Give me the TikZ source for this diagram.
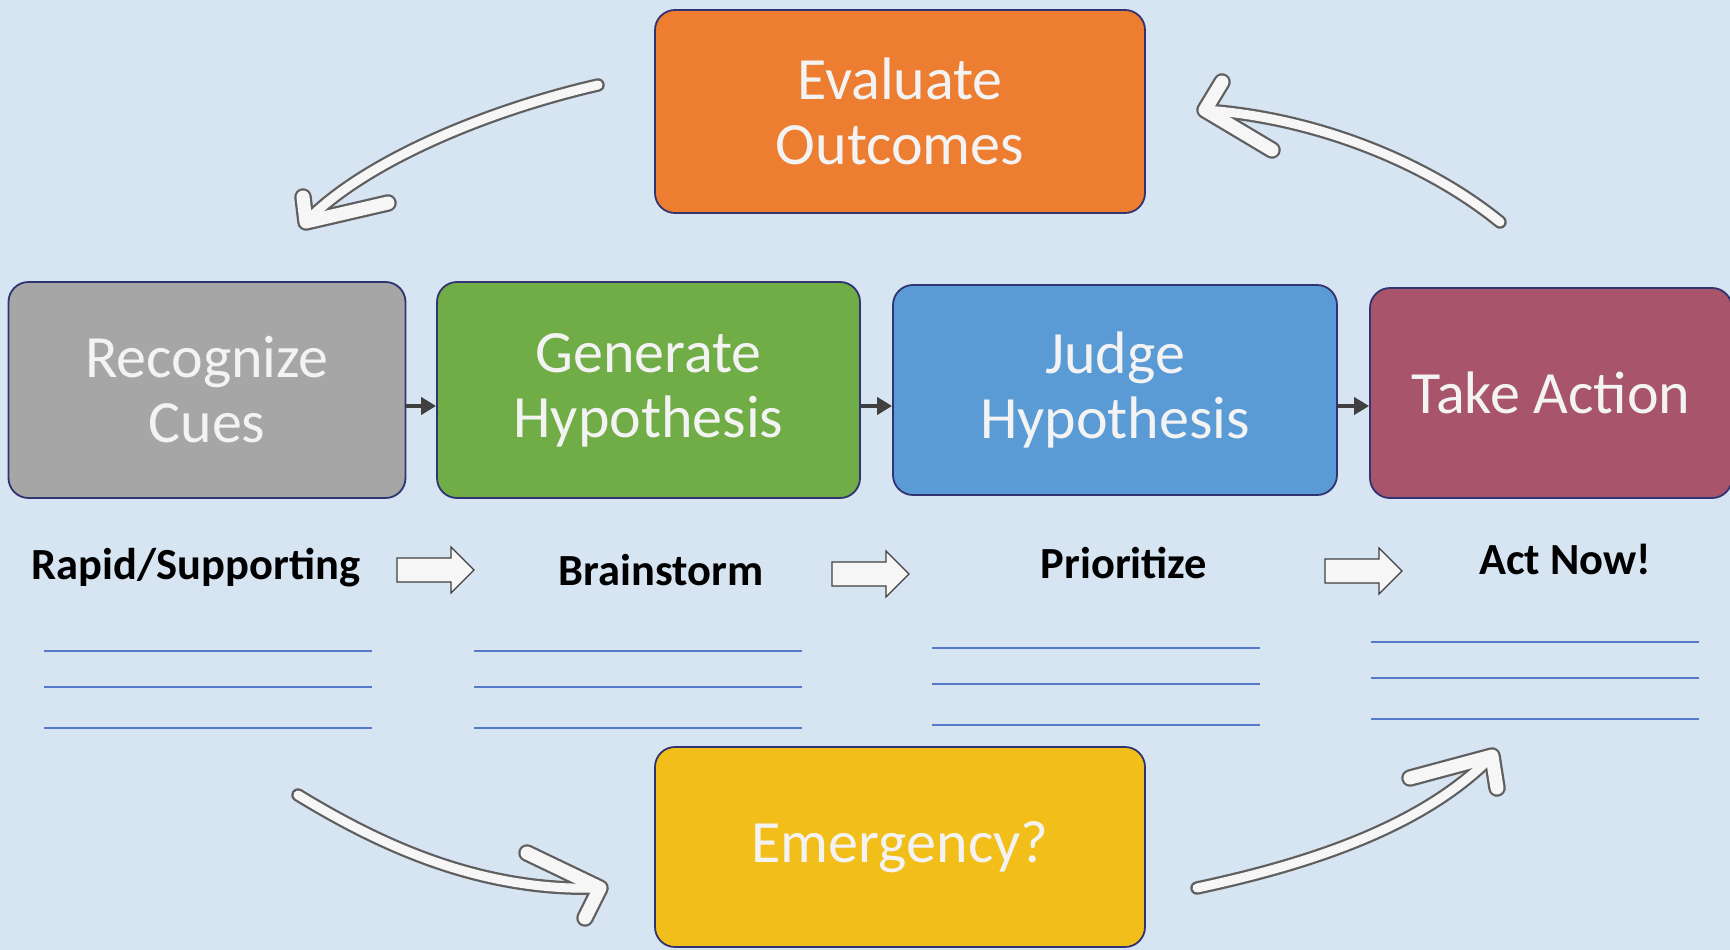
\documentclass[tikz,border=0pt]{standalone}
\usepackage{fontspec}
\setmainfont{Carlito}
\usetikzlibrary{arrows.meta,positioning}

\definecolor{bgblue}{RGB}{215,228,242}
\definecolor{boxline}{RGB}{48,52,112}
\definecolor{boxtext}{RGB}{243,243,243}
\definecolor{cuegray}{RGB}{166,166,166}
\definecolor{gengreen}{RGB}{112,173,71}
\definecolor{judgeblue}{RGB}{91,155,213}
\definecolor{actred}{RGB}{168,85,108}
\definecolor{evalorange}{RGB}{237,125,49}
\definecolor{emyellow}{RGB}{242,190,26}
\definecolor{flowgray}{RGB}{64,64,64}
\definecolor{lineblue}{RGB}{84,122,200}
\definecolor{edgegray}{RGB}{95,95,95}
\definecolor{paper}{RGB}{246,246,246}

\tikzset{
  stage/.style={draw=boxline, line width=1.8pt, rounded corners=20pt, text=boxtext,
    align=center, inner sep=0pt, font=\fontsize{60}{65}\selectfont},
  tag/.style={anchor=base, font=\bfseries\fontsize{44.5}{50}\selectfont},
  flow/.style={draw=flowgray, line width=4.5pt, -{Triangle[length=15pt,width=17pt]}},
  rule/.style={draw=lineblue, line width=1.4pt},
  blockarrow/.style={draw=flowgray, fill=paper, line width=1.2pt, line join=miter},
}

% the four curved arrows of the cycle, drawn once as outline and once as fill
\newcommand\cyclearrows[2]{%
  \begin{scope}[draw=#1, line cap=round, line join=round]
    \draw[line width=9pt+#2] (tl0) .. controls (480,112) and (360,165) .. (tl3);
    \draw[line width=13pt+#2] (tla) -- (tl3) -- (tlb);
    \draw[line width=9pt+#2] (tr0) .. controls (1430,165) and (1320,118) .. (tr3);
    \draw[line width=13pt+#2] (tra) -- (tr3) -- (trb);
    \draw[line width=9pt+#2] (bl0) .. controls (380,845) and (480,892) .. (bl3);
    \draw[line width=13pt+#2] (bla) -- (bl3) -- (blb);
    \draw[line width=9pt+#2] (br0) .. controls (1300,866) and (1420,830) .. (br3);
    \draw[line width=13pt+#2] (bra) -- (br3) -- (brb);
  \end{scope}}

\begin{document}
\begin{tikzpicture}[x=1pt,y=-1pt]
  \fill[bgblue] (0,0) rectangle (1730,950);
  \useasboundingbox (0,0) rectangle (1730,950);

  % boxes
  \node[stage, fill=evalorange, minimum width=490pt, minimum height=203pt] (eval) at (900,111.5) {Evaluate\\Outcomes};
  \node[stage, fill=cuegray, minimum width=397pt, minimum height=216pt] (cues) at (207,390) {Recognize\\Cues};
  \node[stage, fill=gengreen, minimum width=423pt, minimum height=216pt] (gen) at (648.5,390) {Generate\\Hypothesis};
  \node[stage, fill=judgeblue, minimum width=444pt, minimum height=210pt] (judge) at (1115,390) {Judge\\Hypothesis};
  \node[stage, fill=actred, minimum width=362pt, minimum height=210pt] (act) at (1551,393) {Take Action};
  \node[stage, fill=emyellow, minimum width=490pt, minimum height=200pt] (emerg) at (900,847) {Emergency?};

  % small arrows between the boxes
  \coordinate (row) at (0,406);
  \draw[flow] (cues.east |- row) -- (gen.west |- row);
  \draw[flow] (gen.east |- row) -- (judge.west |- row);
  \draw[flow] (judge.east |- row) -- (act.west |- row);

  % labels under the boxes
  \node[tag] (rapid) at (196,579) {Rapid/Supporting};
  \node[tag] (storm) at (661,585) {Brainstorm};
  \node[tag] (prio) at (1124,578) {Prioritize};
  \node[tag] (now) at (1565,574) {Act Now!};

  % outline arrows between the labels
  \foreach \x/\y in {397/570, 832/574, 1325/571}
    \draw[blockarrow] (\x,\y-12) -- ++(54,0) -- ++(0,-11) -- ++(23,23) -- ++(-23,23)
      -- ++(0,-11) -- ++(-54,0) -- cycle;

  % writing lines
  \foreach \x/\y in {44/651, 474/651, 932/648, 1371/642}
    \foreach \d in {0,36,77}
      \draw[rule] (\x,\y+\d) -- ++(328,0);

  % cycle arrows
  \coordinate (tl0) at (598,85);   \coordinate (tl3) at (306,222);
  \coordinate (tla) at (303,197);  \coordinate (tlb) at (388,203);
  \coordinate (tr0) at (1500,222); \coordinate (tr3) at (1205,110);
  \coordinate (tra) at (1222,82);  \coordinate (trb) at (1272,150);
  \coordinate (bl0) at (298,795);  \coordinate (bl3) at (600,888);
  \coordinate (bla) at (527,853);  \coordinate (blb) at (585,918);
  \coordinate (br0) at (1197,888); \coordinate (br3) at (1492,756);
  \coordinate (bra) at (1410,778); \coordinate (brb) at (1497,788);
  \cyclearrows{edgegray}{4.5pt}
  \cyclearrows{paper}{0pt}
\end{tikzpicture}
\end{document}
